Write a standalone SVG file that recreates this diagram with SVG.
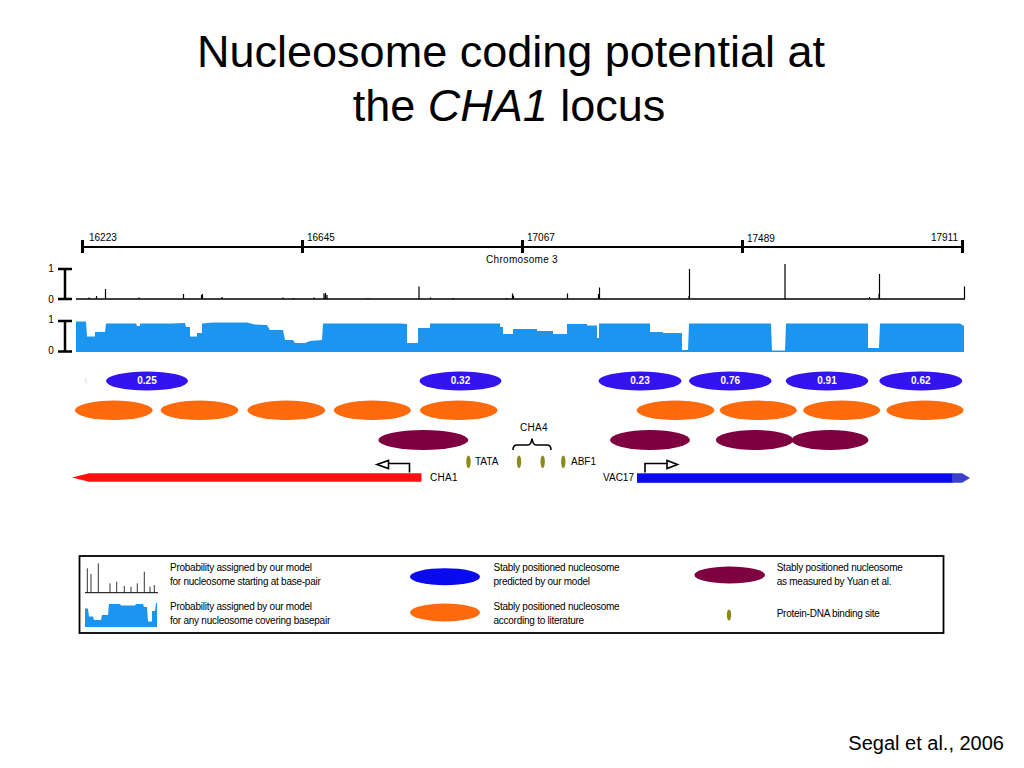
<svg xmlns="http://www.w3.org/2000/svg" width="1024" height="768" viewBox="0 0 1024 768">
<defs>
<style>
text{font-family:"Liberation Sans",Arial,Helvetica,sans-serif;fill:#000}
.title{font-size:45px}
.ax{font-size:10px}
.sc{font-size:10px}
.val{font-size:10px;font-weight:bold;fill:#fff}
.lab{font-size:10px}
.leg{font-size:10px;letter-spacing:-0.25px}
.pred{fill:#3314EE}
.lit{fill:#FF6B0C}
.yuan{fill:#7F0040}
.site{fill:#8C8A1E}
.spk{stroke:#000;stroke-width:1.2;fill:none}
.bar{stroke:#000;stroke-width:2.5;fill:none}
.cov{fill:#1B95F0}
.prom{stroke:#000;stroke-width:1.6;fill:#fff}
</style>
</defs>
<rect width="1024" height="768" fill="#fff"/>

<g id="title">
<text class="title" x="511" y="67" text-anchor="middle">Nucleosome coding potential at</text>
<text class="title" x="509" y="121" text-anchor="middle">the <tspan font-style="italic">CHA1</tspan> locus</text>
</g>

<g id="axis">
<line x1="82" y1="247" x2="963" y2="247" stroke="#000" stroke-width="2"/>
<g stroke="#000" stroke-width="3">
<line x1="82.5" y1="240" x2="82.5" y2="253"/>
<line x1="302.5" y1="240" x2="302.5" y2="253"/>
<line x1="522.5" y1="240" x2="522.5" y2="253"/>
<line x1="742.5" y1="240" x2="742.5" y2="253"/>
<line x1="962.5" y1="240" x2="962.5" y2="253"/>
</g>
<text class="ax" x="89" y="241">16223</text>
<text class="ax" x="307" y="241">16645</text>
<text class="ax" x="527" y="241">17067</text>
<text class="ax" x="747" y="242">17489</text>
<text class="ax" x="958" y="241" text-anchor="end">17911</text>
<text class="ax" x="522" y="263" text-anchor="middle" letter-spacing="0.3">Chromosome 3</text>
</g>

<g id="start-probability-track">
<text class="sc" x="51" y="272" text-anchor="middle">1</text>
<text class="sc" x="51" y="303" text-anchor="middle">0</text>
<path class="bar" d="M58,269 H72 M65,269 V299 M58,299 H72"/>
<line x1="76" y1="299" x2="965" y2="299" stroke="#000" stroke-width="1.3"/>
<path class="spk" d="M89,299V297.5 M96.5,299V296 M105.5,299V289 M139,299V297.5 M183.5,299V294 M201.5,299V295 M202.5,299V294 M222,299V297 M283,299V297.5 M293.5,299V298 M314,299V297.5 M324,299V293.5 M325.5,299V293 M327,299V295 M368,299V298 M419,299V286.5 M430.5,299V297.5 M453,299V298 M506.5,299V298 M512.5,299V293.5 M513.5,299V295.5 M567.5,299V293.5 M598.5,299V294 M599.5,299V287.5 M689,299V296 M689.5,299V269 M785,299V264 M869.5,299V297 M879,299V294 M879.5,299V274 M964.5,299V286.5"/>
</g>

<g id="coverage-probability-track">
<text class="sc" x="51" y="323" text-anchor="middle">1</text>
<text class="sc" x="51" y="354" text-anchor="middle">0</text>
<path class="bar" d="M58,321 H72 M65,321 V351.5 M58,351.5 H72"/>
<path class="cov" d="M76,352 L76,321.5 L86,321.5 L87,336.5 L95,336.5 L95,332 L105,332 L106,323.5 L136,323.5 L137,326 L140,326 L140,323.5 L170,323.5 L185,323 L186,327 L190,327 L190,336.5 L197,336.5 L197,333 L202,333 L202,323.5 L213,322.5 L247,322.5 L255,324.5 L267,325 L270,330 L283,330 L285,340 L293,340 L295,343 L305,343 L310,341 L322,340 L323,323.5 L400,323.5 L407,324 L407,343 L418,343 L418,328 L430,328 L430,323.5 L500,323.5 L500,327 L503,327 L503,334 L513,334 L513,329 L537,329 L537,331 L553,331 L553,334 L567,334 L567,324 L587,324 L587,325.5 L597,325.5 L597,338 L599,338 L599,323.5 L650,323.5 L650,332 L663,332 L663,333 L682,333 L682,350 L688,350 L689,323.5 L771,323.5 L772,350.5 L785,350.5 L786,323.5 L868,323.5 L868,348 L879,348 L880,323.5 L960,323.5 L964,326 L964,352 Z"/>
</g>

<g id="predicted-nucleosomes">
<line x1="86" y1="378" x2="86" y2="383.5" stroke="#d8d8d8" stroke-width="1"/>
<ellipse class="pred" cx="147" cy="381" rx="41" ry="9.5"/>
<text class="val" x="147" y="384" text-anchor="middle">0.25</text>
<ellipse class="pred" cx="460.5" cy="381" rx="41" ry="9.5"/>
<text class="val" x="460.5" y="384" text-anchor="middle">0.32</text>
<ellipse class="pred" cx="640" cy="381" rx="41.5" ry="9.5"/>
<text class="val" x="640" y="384" text-anchor="middle">0.23</text>
<ellipse class="pred" cx="730.3" cy="381" rx="41.3" ry="9.5"/>
<text class="val" x="730.3" y="384" text-anchor="middle">0.76</text>
<ellipse class="pred" cx="827" cy="381" rx="41.3" ry="9.5"/>
<text class="val" x="827" y="384" text-anchor="middle">0.91</text>
<ellipse class="pred" cx="920.8" cy="381" rx="41.5" ry="9.5"/>
<text class="val" x="920.8" y="384" text-anchor="middle">0.62</text>
</g>

<g id="literature-nucleosomes">
<ellipse class="lit" cx="113.8" cy="410.3" rx="38.8" ry="9.7"/>
<ellipse class="lit" cx="199.5" cy="410.3" rx="38.8" ry="9.7"/>
<ellipse class="lit" cx="286.3" cy="410.3" rx="38.8" ry="9.7"/>
<ellipse class="lit" cx="372.3" cy="410.3" rx="38.5" ry="9.7"/>
<ellipse class="lit" cx="458.7" cy="410.3" rx="38.7" ry="9.7"/>
<ellipse class="lit" cx="675.5" cy="410.3" rx="38.8" ry="9.7"/>
<ellipse class="lit" cx="758.3" cy="410.3" rx="38.5" ry="9.7"/>
<ellipse class="lit" cx="841.7" cy="410.3" rx="38.5" ry="9.7"/>
<ellipse class="lit" cx="925" cy="410.3" rx="38.5" ry="9.7"/>
</g>

<g id="measured-nucleosomes">
<ellipse class="yuan" cx="423.3" cy="440" rx="45" ry="10"/>
<ellipse class="yuan" cx="650" cy="440" rx="40" ry="10"/>
<ellipse class="yuan" cx="754.7" cy="440" rx="38.8" ry="10"/>
<ellipse class="yuan" cx="830" cy="440" rx="38.5" ry="10"/>
</g>

<g id="binding-sites">
<ellipse class="site" cx="468.5" cy="461.7" rx="2.2" ry="6.3"/>
<text class="lab" x="475" y="464.5">TATA</text>
<ellipse class="site" cx="519" cy="461.7" rx="2.2" ry="6.3"/>
<ellipse class="site" cx="542.7" cy="461.7" rx="2.2" ry="6.3"/>
<ellipse class="site" cx="563.3" cy="461.7" rx="2.2" ry="6.3"/>
<text class="lab" x="571" y="464.5">ABF1</text>
<text class="lab" x="534" y="430.5" text-anchor="middle" letter-spacing="0.3">CHA4</text>
</g>

<g id="connectors">
<path d="M513,450 Q513,445 517,445 L528,445 Q531,445 532,438.5 Q533,445 536,445 L547,445 Q551,445 551,450" fill="none" stroke="#000" stroke-width="1.6"/>
<path d="M409.5,472.5 V463.5 H388" fill="none" stroke="#000" stroke-width="1.6"/>
<path class="prom" d="M377,464.5 L388.5,460.5 L388.5,468.5 Z"/>
<path d="M645,472.5 V463.5 H667" fill="none" stroke="#000" stroke-width="1.6"/>
<path class="prom" d="M677.5,464.5 L667,460.5 L667,468.5 Z"/>
</g>

<g id="CHA1-gene">
<path d="M72,477.5 L89,473.3 L421.5,473.3 L421.5,481.8 L89,481.8 Z" fill="#FF1010"/>
<text class="lab" x="430" y="481" letter-spacing="0.3">CHA1</text>
</g>

<g id="VAC17-gene">
<rect x="637" y="473.3" width="316" height="9.5" fill="#0A0AF0"/>
<path d="M952,473.3 L962,473.3 L970,478 L962,482.8 L952,482.8 Z" fill="#3A40CC"/>
<text class="lab" x="634" y="481" text-anchor="end">VAC17</text>
</g>

<g id="legend">
<rect x="79.5" y="556" width="864" height="77" fill="#fff" stroke="#000" stroke-width="1.8"/>
<line x1="85" y1="592.7" x2="158" y2="592.7" stroke="#000" stroke-width="1"/>
<path stroke="#000" stroke-width="0.8" fill="none" d="M87.3,592.7V568.3 M91,592.7V574 M98.3,592.7V563.3 M110,592.7V583.3 M116.7,592.7V581.7 M124.3,592.7V586 M131,592.7V586.7 M137.3,592.7V583.3 M144.3,592.7V571.7 M150,592.7V586.7 M154.3,592.7V585"/>
<path class="cov" d="M85,627 L85,608.5 L88,608.5 L89,616.5 L93,616.5 L94,620 L101,620 L102,615 L108,615 L109,604 L120,604 L121,605.5 L135,605.5 L136,604 L143,604 L144,607 L147,607 L148,621.5 L152,621.5 L152,611 L155,611 L156,603 L157,603 L157,627 Z"/>
<text class="leg" x="170" y="571">Probability assigned by our model</text>
<text class="leg" x="170" y="585">for nucleosome starting at base-pair</text>
<text class="leg" x="170" y="610">Probability assigned by our model</text>
<text class="leg" x="170" y="624">for any nucleosome covering basepair</text>
<ellipse cx="445" cy="576.7" rx="35" ry="8.5" fill="#0A0AEE"/>
<ellipse class="lit" cx="445" cy="612.5" rx="35" ry="9"/>
<text class="leg" x="493.5" y="571">Stably positioned nucleosome</text>
<text class="leg" x="493.5" y="585">predicted by our model</text>
<text class="leg" x="493.5" y="610">Stably positioned nucleosome</text>
<text class="leg" x="493.5" y="624">according to literature</text>
<ellipse class="yuan" cx="729.7" cy="575" rx="35.3" ry="8.5"/>
<ellipse class="site" cx="729" cy="615" rx="2.2" ry="5.5"/>
<text class="leg" x="776.7" y="571">Stably positioned nucleosome</text>
<text class="leg" x="776.7" y="585">as measured by Yuan et al.</text>
<text class="leg" x="776.7" y="617">Protein-DNA binding site</text>
</g>

<g id="citation">
<text x="1004" y="750" font-size="20" text-anchor="end">Segal et al., 2006</text>
</g>
</svg>
